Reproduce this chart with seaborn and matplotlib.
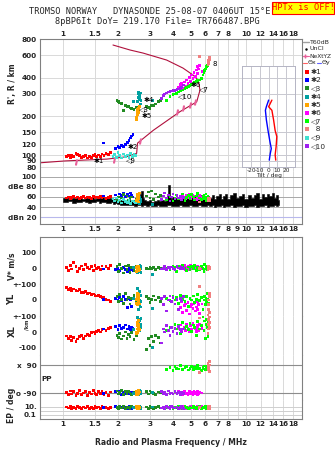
import numpy as np
import pandas as pd
import matplotlib
matplotlib.use("Agg")
import matplotlib.pyplot as plt
import seaborn as sns
from matplotlib.lines import Line2D
from matplotlib.patches import Rectangle

sns.set_theme(style="white")
plt.rcParams['font.family'] = ['DejaVu Sans']

# ---------------- data ----------------
freq_ticks = [1, 1.5, 2, 3, 4, 5, 6, 7, 8, 9, 10, 12, 14, 16, 18]
freq_labels = ["1", "1.5", "2", "3", "4", "5", "6", "7", "8", "9", "10", "12", "14", "16", "18"]
height_ticks = [80, 90, 100, 120, 150, 200, 300, 400, 600, 800]

series_names = ["✱1", "✱2", "◁3", "✱4", "✱5", "✱6", "◁7", "  8", "◁9", "◁10"]
series_colors = ["#ff0000", "#0000ff", "#228b22", "#00a0a0", "#ffa500",
                 "#ff00ff", "#00ff00", "#f08080", "#40e0d0", "#a020f0"]

s1_freq = [1.05,1.08,1.10,1.12,1.15,1.18,1.20,1.23,1.26,1.30,1.33,1.36,1.40,1.43,1.47,1.50,1.53,1.57,1.60,1.64,1.68,1.72,1.77,1.82]
s1_height = [97,99,96,100,98,103,101,99,96,97,99,95,98,96,99,101,97,100,98,102,99,103,101,104]
s1_db = [58,60,57,59,61,58,60,57,59,61,58,60,59,57,61,58,60,59,61,58,60,57,59,61]
s1_v = [5,-15,20,-5,35,10,-20,0,15,-10,25,5,-5,10,-15,20,0,5,-10,15,-5,10,0,20]
s1_yl = [80,68,75,62,70,60,58,65,50,48,55,40,45,35,38,30,25,28,20,15,18,5,0,-10]
s1_xl = [-25,-40,-30,-55,-35,-60,-45,-30,-20,-40,-25,-15,-20,-5,0,-10,5,10,0,15,20,10,25,30]
s1_pp = [-85,-100,-75,-95,-80,-105,-90,-72,-98,-88,-78,-102,-85,-95,-70,-90,-100,-80,-92,-76,-96,-86,-104,-82]
s1_ep = [8,5,10,3,7,4,9,6,3,8,5,10,4,7,3,9,6,8,4,10,5,7,3,6]

s2_freq = [1.67,1.95,2.00,2.05,2.10,2.15,2.20,2.25,2.30,2.34,2.38,2.42]
s2_height = [124,113,116,115,118,117,121,126,130,136,141,145]
s2_db = [62,64,60,66,63,67,61,65,62,68,64,60]
s2_v = [-5,-10,0,-15,-5,5,-10,-20,0,-8,-3,-12]
s2_yl = [5,10,0,15,-5,20,5,-50,10,0,-40,8]
s2_xl = [20,35,15,40,25,30,45,20,35,15,30,25]
s2_pp = [-90,-80,-95,-75,-100,-85,-90,-78,-95,-88,-82,-92]
s2_ep = [6,9,4,10,7,5,8,3,9,6,4,7]

s3_freq = [1.98,2.01,2.05,2.10,2.14,2.19,2.24,2.28,2.33,2.38,2.45,2.52,2.87,2.95,2.99,3.05,3.12,3.20,3.32,3.42]
s3_height = [268,260,255,252,224,245,238,240,233,231,228,236,238,236,231,242,245,250,260,268]
s3_db = [55,60,52,58,65,50,62,54,57,60,52,56,62,70,58,72,55,66,60,63]
s3_v = [10,-20,25,0,-30,15,-10,20,-25,5,-15,10,0,-5,5,0,3,-8,5,-3]
s3_yl = [20,-10,35,5,-20,40,0,15,-25,10,30,-5,20,10,-15,5,25,0,15,-10]
s3_xl = [-20,-35,-10,-45,-25,0,-40,-15,-30,-5,-50,-20,-110,-40,-85,-30,-60,-20,-35,-70]
s3_pp = [-75,-95,-85,-70,-100,-80,-92,-78,-88,-98,-82,-90,-80,-95,-75,-85,-90,-100,-82,-88]
s3_ep = [7,4,9,5,10,3,8,6,4,9,5,7,8,4,10,6,3,7,9,5]

s4_freq = [2.56,2.58,2.60,2.60,2.62,2.63,2.64,2.65,2.66,2.67,3.08,2.43]
s4_height = [262,280,300,310,272,295,288,250,305,268,268,262]
s4_db = [50,55,48,58,52,46,60,54,50,56,45,52]
s4_v = [-30,-10,5,15,-20,0,20,-5,10,-25,-40,5]
s4_yl = [75,40,-60,20,-30,55,0,-45,30,-10,-55,10]
s4_xl = [95,60,20,80,40,70,10,50,30,85,-100,15]
s4_pp = [-75,-90,-85,-100,-80,-95,-70,-88,-92,-78,-85,-90]
s4_ep = [5,8,3,10,6,4,9,7,5,3,8,6]

s5_freq = [2.52,2.54,2.55,2.56,2.57,2.58,2.59,2.60,2.61,2.62,2.53,2.57]
s5_height = [195,200,210,205,218,225,232,215,238,240,190,228]
s5_db = [52,58,62,55,66,50,60,64,57,68,54,59]
s5_v = [-20,-10,5,15,-5,10,-15,0,8,-8,3,12]
s5_yl = [-20,10,40,-30,25,0,-10,15,35,-25,5,20]
s5_xl = [0,20,60,-5,40,10,75,30,50,15,-8,45]
s5_pp = [-78,-95,-85,-100,-80,-90,-72,-88,-92,-82,-96,-86]
s5_ep = [6,3,9,5,8,4,10,7,3,6,9,5]

s6_freq = [4.30,4.40,4.46,4.52,4.60,4.68,4.75,4.82,4.90,4.98,5.06,5.14,5.20,5.28,5.35,5.42,5.46,5.52,5.60,5.75]
s6_height = [340,355,362,330,372,345,385,360,400,375,421,395,440,410,460,430,490,470,500,450]
s6_db = [58,62,55,65,60,57,63,59,66,56,61,64,58,62,55,60,65,57,63,59]
s6_v = [10,-5,15,0,20,-10,5,12,-8,18,0,-5,10,3,-12,8,15,-3,6,0]
s6_yl = [-20,-50,-10,-80,-35,-25,-65,-15,-90,-40,-30,-55,-20,-70,-45,-10,-60,-30,-85,-25]
s6_xl = [20,45,5,60,30,10,50,25,0,40,15,55,35,20,5,45,30,10,50,25]
s6_pp = [-80,-95,-85,-100,-75,-90,-88,-98,-78,-92,-84,-96,-80,-90,-86,-100,-76,-94,-82,-88]
s6_ep = [7,4,9,5,10,3,8,6,4,9,5,7,3,8,6,10,4,7,5,9]

s7_freq = [3.69,3.85,4.00,4.10,4.19,4.30,4.40,4.50,4.65,4.75,4.85,4.95,5.05,5.15,5.25,5.35,5.45,5.60,5.70,5.83,5.90,5.95,6.00,6.05,6.10,6.15,6.20,6.23]
s7_height = [268,285,295,300,303,310,318,322,330,335,342,350,356,362,368,375,380,385,395,421,440,455,470,480,490,500,510,520]
s7_db = [55,60,52,58,64,56,61,66,53,59,63,57,65,60,54,62,67,58,55,61,64,57,60,66,53,59,62,56]
s7_v = [0,-10,15,5,-20,10,-5,20,0,-15,8,-8,12,-3,18,-12,5,-6,10,0,-18,22,-4,6,14,-10,3,8]
s7_yl = [10,-5,25,0,15,-20,30,5,-10,20,-40,10,0,25,-15,5,35,-5,15,-60,0,20,-30,10,-10,40,5,-20]
s7_xl = [10,30,0,50,20,40,-10,60,25,35,15,55,5,45,30,-20,65,20,40,100,10,70,-40,50,80,30,-30,60]
s7_pp = [60,75,55,80,70,65,85,60,72,78,58,68,82,62,74,66,88,70,56,76,64,84,60,72,80,58,68,90]
s7_ep = [6,9,4,8,5,10,7,3,9,6,4,8,5,10,7,3,6,9,4,8,5,7,10,3,6,9,4,8]

s8_freq = [5.56,6.20,6.22,6.25,6.27,6.30,6.32,6.35]
s8_height = [586,505,520,535,550,565,575,560]
s8_db = [50,52,56,58,54,55,57,53]
s8_v = [0,-10,5,10,-5,0,8,-3]
s8_yl = [85,-100,-60,-30,0,20,40,-80]
s8_xl = [90,-10,20,50,80,100,30,60]
s8_pp = [40,100,85,70,60,90,110,50]
s8_ep = [6,9,4,8,5,10,7,3]

s9_freq = [1.88,1.92,1.97,2.00,2.05,2.10,2.15,2.20,2.25,2.30,2.35,2.40,2.45,2.50]
s9_height = [97,101,96,104,99,95,102,98,100,96,103,97,101,99]
s9_db = [56,52,58,50,54,48,55,51,49,53,47,52,50,48]
s9_v, s9_yl, s9_xl, s9_pp, s9_ep = [], [], [], [], []

s10_freq = [3.47,3.54,3.60,3.70,3.78,3.85,3.92,4.00,4.10,4.20,4.30,4.37,4.45,4.55]
s10_height = [276,293,300,305,310,312,316,318,321,324,327,330,340,352]
s10_db = [55,62,68,58,64,52,60,66,56,63,58,61,54,59]
s10_v = [-5,0,10,-10,5,-3,8,0,-8,12,2,-5,6,0]
s10_yl = [10,-30,20,-70,0,25,-10,15,-25,5,-60,10,-5,20]
s10_xl = [-70,20,0,40,10,-20,30,5,25,-10,35,15,0,20]
s10_pp = [-80,-95,-85,-100,-75,-90,-88,-95,-78,-92,-84,-98,-86,-90]
s10_ep = [5,8,3,10,6,4,9,7,5,8,3,6,10,4]

# true-height profile and NeXtYZ markers
prof_freq = [0.75,1.03,1.74,2.23,2.53,2.56,3.12,4.36,5.38,5.61,5.48,5.14,4.53,3.69,2.74,2.33,1.88]
prof_height = [87,90,93,97,103,124,156,218,260,321,385,421,477,551,625,660,722]
nexyz_freq = [1.18,1.90,2.64,4.19,4.53,4.96,5.27]
nexyz_height = [88,92,129,217,232,246,260]

# tilt profile (inset)
tilt_x_deg = [3.7,0.0,3.7,5.6,7.4,9.3,8.5,7.4,8.1]
tilt_x_h = [268,238,223,188,155,139,116,100,91]
tilt_y_deg = [0.0,-2.6,-3.7,-2.6,-0.7,1.1,3.0,1.9,0.7]
tilt_y_h = [268,238,223,188,155,131,112,103,91]

# black amplitude trace (dB)
noise_freq = [1.0,1.05,1.1,1.15,1.2,1.25,1.3,1.35,1.4,1.45,1.5,1.55,1.6,1.65,1.7,1.75,1.8,1.85,1.9,1.95,
              2.0,2.1,2.2,2.3,2.4,2.5,2.6,2.65,2.7,2.75,
              2.8,2.9,3.0,3.1,3.2,3.3,3.4,3.5,3.6,3.7,3.75,3.8,3.85,3.9,
              4.0,4.2,4.4,4.6,4.8,5.0,5.2,5.4,5.6,5.8,6.0,6.2,
              6.4,6.6,6.8,7.0,7.2,7.4,7.6,7.8,8.0,8.3,8.6,9.0,9.3,9.6,10,10.4,10.8,11.2,11.6,12,12.4,12.8,13.2,13.6,14,14.4,14.8,15.2]
noise_lo = [51,50,52,49,51,50,52,50,49,51,50,52,49,50,51,49,48,50,47,48,
            46,45,44,45,44,43,44,44,43,44,
            45,43,44,42,43,44,42,43,42,43,44,45,44,43,
            43,42,44,43,42,44,43,42,44,43,42,44,
            42,44,41,43,42,44,41,43,42,44,41,43,42,44,41,43,42,44,41,43,42,44,41,43,42,44,43,44]
noise_hi = [58,60,57,59,58,60,57,59,58,60,57,59,58,60,57,58,59,56,57,55,
            55,54,53,55,52,54,56,66,72,58,
            54,52,55,51,53,54,52,55,53,58,62,84,60,56,
            60,58,62,59,61,58,62,60,63,59,61,62,
            58,64,56,62,66,57,61,65,56,63,67,58,62,66,57,64,59,63,68,57,65,60,66,62,68,59,63,55]

# echo-label annotations
lab_text = ["✱1", "✱2", "◁9", "✱4", "◁3", "✱5", "◁10", "✱6", "◁7", "8"]
lab_freq = [1.47, 2.25, 2.21, 2.75, 2.62, 2.70, 4.27, 5.00, 5.55, 6.57]
lab_height = [90, 115, 92, 268, 228, 200, 288, 352, 328, 513]

# ---------------- assemble ----------------
all_series = [
    (s1_freq, s1_height, s1_db, s1_v, s1_yl, s1_xl, s1_pp, s1_ep),
    (s2_freq, s2_height, s2_db, s2_v, s2_yl, s2_xl, s2_pp, s2_ep),
    (s3_freq, s3_height, s3_db, s3_v, s3_yl, s3_xl, s3_pp, s3_ep),
    (s4_freq, s4_height, s4_db, s4_v, s4_yl, s4_xl, s4_pp, s4_ep),
    (s5_freq, s5_height, s5_db, s5_v, s5_yl, s5_xl, s5_pp, s5_ep),
    (s6_freq, s6_height, s6_db, s6_v, s6_yl, s6_xl, s6_pp, s6_ep),
    (s7_freq, s7_height, s7_db, s7_v, s7_yl, s7_xl, s7_pp, s7_ep),
    (s8_freq, s8_height, s8_db, s8_v, s8_yl, s8_xl, s8_pp, s8_ep),
    (s9_freq, s9_height, s9_db, s9_v, s9_yl, s9_xl, s9_pp, s9_ep),
    (s10_freq, s10_height, s10_db, s10_v, s10_yl, s10_xl, s10_pp, s10_ep),
]
top_rows, bot_rows = [], []
for name, (fr, h, db, v, yl, xl, pp, ep) in zip(series_names, all_series):
    for i in range(len(fr)):
        top_rows.append(dict(series=name, freq=fr[i], height=h[i], db=db[i]))
        if len(v):
            bot_rows.append(dict(series=name, freq=fr[i], v=v[i], yl=yl[i], xl=xl[i], pp=pp[i], ep=ep[i]))
df_top = pd.DataFrame(top_rows)
df_bot = pd.DataFrame(bot_rows)
palette = dict(zip(series_names, series_colors))

# ---------------- figure ----------------
W, H = 335, 451
fig = plt.figure(figsize=(W / 100, H / 100), dpi=100)
fig.patch.set_facecolor("white")

def axes_px(x0, x1, y0, y1):
    return fig.add_axes([x0 / W, 1 - y1 / H, (x1 - x0) / W, (y1 - y0) / H])

def ftext(x, y, s, **kw):
    fig.text(x / W, 1 - y / H, s, **kw)

FRAME = "#808080"
GRID = "#d9d9d9"
TFS = 5.2
XL0, XL1 = 0.747, 20.2
L, R = 39.5, 302

def style_x(ax, labels_bottom=False, labels_top=False, skip9=False):
    ax.set_xscale("log")
    ax.set_xlim(XL0, XL1)
    ax.set_xticks(freq_ticks)
    labs = [("" if (skip9 and t == "9") else t) for t in freq_labels]
    ax.set_xticklabels(labs)
    ax.xaxis.set_minor_locator(matplotlib.ticker.NullLocator())
    ax.tick_params(axis="x", length=0, pad=1.5, labelsize=TFS,
                   labelbottom=labels_bottom, labeltop=labels_top, bottom=False, top=False)
    for t in ax.get_xticklabels():
        t.set_fontweight("bold")
    for x in freq_ticks:
        ax.axvline(x, color=GRID, lw=0.7, zorder=0)

def style_frame(ax, top=True, bottom=True):
    for s in ax.spines.values():
        s.set_color(FRAME)
        s.set_linewidth(0.8)
    ax.spines["top"].set_visible(top)
    ax.spines["bottom"].set_visible(bottom)
    ax.tick_params(axis="y", length=0, pad=2, labelsize=TFS)
    for t in ax.get_yticklabels():
        t.set_fontweight("bold")
    ax.set_xlabel("")
    ax.set_ylabel("")

# ---- height panel ----
ax_h = axes_px(L, R, 39.3, 171)
ax_h.set_yscale("log")
ax_h.set_ylim(75.1, 800)
style_x(ax_h, labels_top=True, skip9=True)
ax_h.set_yticks(height_ticks)
ax_h.set_yticklabels([str(t) for t in height_ticks])
ax_h.yaxis.set_minor_locator(matplotlib.ticker.NullLocator())
for y in height_ticks:
    ax_h.axhline(y, color=GRID, lw=0.7, zorder=0)
sns.lineplot(x=prof_freq, y=prof_height, sort=False, estimator=None, ax=ax_h,
             color="#b0103c", lw=0.8, zorder=2)
ax_h.plot(nexyz_freq, nexyz_height, ls="none", marker="$I$", ms=3.5, color="#e8609a", zorder=3)
sns.scatterplot(data=df_top, x="freq", y="height", hue="series", palette=palette,
                marker="s", s=4, linewidth=0, legend=False, ax=ax_h, zorder=4)
for t, f, hh in zip(lab_text, lab_freq, lab_height):
    ax_h.text(f, hh, t, fontsize=5.0, color="black", ha="left", va="center", zorder=5)
style_frame(ax_h, bottom=False)
ax_h.set_xlim(XL0, XL1)
ftext(13, 84, "R', R / km", rotation=90, fontsize=5.5, fontweight="bold", ha="center", va="center")

# ---- dB panel ----
ax_d = axes_px(L, R, 171, 224)
ax_d.set_ylim(6.8, 111.2)
style_x(ax_d, labels_bottom=True)
ax_d.set_yticks([20, 40, 60, 80, 100])
ax_d.set_yticklabels(["dBn 20", "40", "60", "dBe 80", "100"])
for y in [40, 60, 80, 100]:
    ax_d.axhline(y, color="#a8a8a8", lw=0.7, zorder=0)
ax_d.axhline(20, color="#b8b8ec", lw=0.8, zorder=0)
ax_d.fill_between(noise_freq, noise_lo, noise_hi, step="mid", color="black", lw=0.4, zorder=2)
sns.scatterplot(data=df_top, x="freq", y="db", hue="series", palette=palette,
                marker="s", s=4, linewidth=0, legend=False, ax=ax_d, zorder=4)
style_frame(ax_d, top=False)
ax_d.set_xlim(XL0, XL1)

# ---- tilt inset ----
ax_i = axes_px(242.3, 295, 66, 167.3)
ax_i.set_facecolor("white")
ax_i.set_xlim(-30, 30)
ax_i.set_yscale("log")
ax_i.set_ylim(80, 495)
for x in [-20, -10, 0, 10, 20]:
    ax_i.axvline(x, color="#c8c8d0", lw=0.7, zorder=0)
for y in height_ticks:
    ax_i.axhline(y, color="#c8c8d0", lw=0.7, zorder=0)
sns.lineplot(x=tilt_x_deg, y=tilt_x_h, sort=False, estimator=None, ax=ax_i, color="#ff0000", lw=1.0)
sns.lineplot(x=tilt_y_deg, y=tilt_y_h, sort=False, estimator=None, ax=ax_i, color="#0000ff", lw=1.0)
ax_i.set_xticks([-20, -10, 0, 10, 20])
ax_i.set_xticklabels(["-20", "-10", "0", "10", "20"])
ax_i.set_yticks([])
ax_i.yaxis.set_minor_locator(matplotlib.ticker.NullLocator())
ax_i.tick_params(axis="x", length=0, pad=0.5, labelsize=4.2)
for s in ax_i.spines.values():
    s.set_color("#b4b4c4")
    s.set_linewidth(0.7)
ax_i.set_xlabel("Tilt / deg", fontsize=4.2, labelpad=0)
ax_i.set_ylabel("")

# ---- lower panel: V*, YL, XL, PP, EP ----
sub_specs = [
    ("v", 236.7, 284, (-100.6, 202.6), [0, 100], ["0", "100"]),
    ("yl", 284, 316, (-102.6, 102.6), [0, 100], ["0", "+-100"]),
    ("xl", 316, 355, (-147, 102.6), [-100, 0, 100], ["-100", "0", "+-100"]),
    ("pp", 355, 400, (-132.6, 153.6), [-90, 90], ["o -90", "x  90"]),
    ("ep", 400, 419.3, (0.0091, 410), [0.1, 10], ["0.1", "10."]),
]
sub_axes = {}
for i, (key, y0, y1, lim, ticks, labs) in enumerate(sub_specs):
    ax = axes_px(L, R, y0, y1)
    if key == "ep":
        ax.set_yscale("log")
    ax.set_ylim(*lim)
    last = i == len(sub_specs) - 1
    style_x(ax, labels_bottom=last, skip9=True)
    if key == "pp":
        for y in [90, -90]:
            ax.axhline(y, color="#8c8c8c", lw=0.8, zorder=0)
    if key == "ep":
        for y in [10, 1, 0.1]:
            ax.axhline(y, color="#cfcfcf", lw=0.7, zorder=0)
    sns.scatterplot(data=df_bot, x="freq", y=key, hue="series", palette=palette,
                    marker="s", s=4, linewidth=0, legend=False, ax=ax, zorder=4)
    ax.set_yticks(ticks)
    ax.set_yticklabels(labs)
    ax.yaxis.set_minor_locator(matplotlib.ticker.NullLocator())
    style_frame(ax, top=(i == 0), bottom=last)
    ax.set_xlim(XL0, XL1)
    sub_axes[key] = ax

ax_ep = sub_axes["ep"]
ax_ep.set_xlabel("Radio and Plasma Frequency / MHz", fontsize=5.5, fontweight="bold", labelpad=8)

ftext(12, 266, "V* m/s", rotation=90, fontsize=5.5, fontweight="bold", ha="center", va="center")
ftext(12, 299, "YL", rotation=90, fontsize=6, fontweight="bold", ha="center", va="center")
ftext(12, 331, "XL", rotation=90, fontsize=6, fontweight="bold", ha="center", va="center")
ftext(27, 324.5, "/km", rotation=90, fontsize=3.6, fontweight="bold", ha="center", va="center")
ftext(12, 405, "EP / deg", rotation=90, fontsize=5.5, fontweight="bold", ha="center", va="center")
ftext(47, 379, "PP", fontsize=5.3, fontweight="bold", ha="center", va="center")

# ---- titles ----
ftext(150, 12, "TROMSO NORWAY   DYNASONDE 25-08-07 0406UT 15°E", family="DejaVu Sans Mono",
      fontsize=6.2, ha="center", va="center")
ftext(157, 21, "8pBP6It DoY= 219.170 File= TR766487.BPG", family="DejaVu Sans Mono",
      fontsize=6.2, ha="center", va="center")
fig.patches.append(Rectangle((272 / W, 1 - 14 / H), 62 / W, 12 / H, transform=fig.transFigure,
                             facecolor="#ffff00", edgecolor="#ff0000", lw=0.8))
ftext(303, 8, "HPTx is OFF!", family="DejaVu Sans Mono", fontsize=6.2, color="#ff0000",
      ha="center", va="center")

# ---- legend (manual) ----
def fline(x0, x1, y, **kw):
    fig.lines.append(Line2D([x0 / W, x1 / W], [1 - y / H, 1 - y / H], transform=fig.transFigure, **kw))

LFS = 4.5
fline(303, 309, 42, color="#a0a0a0", lw=1)
ftext(310, 42, "T60dB", fontsize=LFS, va="center")
fig.lines.append(Line2D([306 / W], [1 - 49 / H], transform=fig.transFigure, marker=".", ms=1.5,
                        color="black", ls="none"))
ftext(310, 49, "UnCl", fontsize=LFS, va="center")
fline(303, 309, 56, color="#e8609a", lw=0.8)
fig.lines.append(Line2D([305 / W], [1 - 56 / H], transform=fig.transFigure, marker="+", ms=3.5,
                        color="#e8609a", ls="none"))
ftext(309.5, 56, "NeXtYZ", fontsize=LFS - 0.3, va="center")
fline(303, 307, 62.5, color="#ff6060", lw=0.8)
ftext(307.5, 62.5, "Θx", fontsize=LFS, va="center")
fline(317, 321, 62.5, color="#6060ff", lw=0.8)
ftext(321.5, 62.5, "Θy", fontsize=LFS, va="center")
for k, (name, col) in enumerate(zip(series_names, series_colors)):
    y = 72 + 8.2 * k
    fig.patches.append(Rectangle((305 / W, 1 - (y + 2) / H), 4 / W, 4 / H,
                                 transform=fig.transFigure, facecolor=col, edgecolor="none"))
    ftext(311, y, name, fontsize=5.3, va="center")

fig.savefig("out.png", dpi=100)
